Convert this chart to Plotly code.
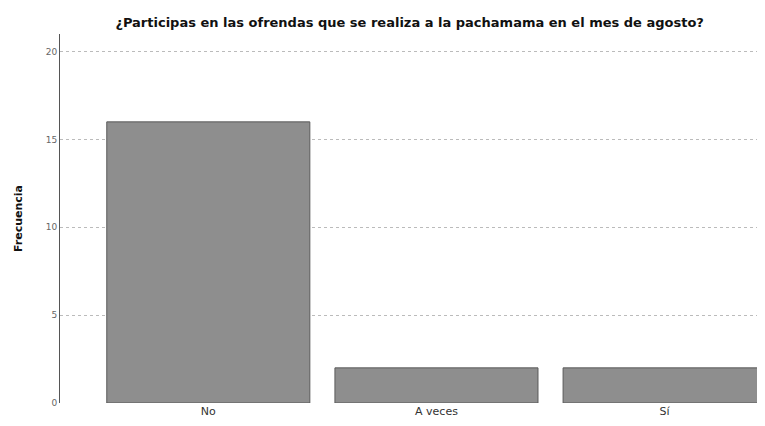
import plotly.graph_objects as go

categorias = ["No", "A veces", "Sí"]
frecuencia = [16, 2, 2]
ticks_y = [0, 5, 10, 15, 20]

fig = go.Figure()
fig.add_trace(
    go.Bar(
        x=categorias,
        y=frecuencia,
        marker=dict(color="#8e8e8e", line=dict(color="#5a5a5a", width=1)),
        showlegend=False,
    )
)

# the page body adds an 8px offset, margins are set with that in mind
fig.update_layout(
    width=765,
    height=426,
    paper_bgcolor="white",
    plot_bgcolor="white",
    font=dict(family="DejaVu Sans, Verdana, sans-serif", size=11, color="#222"),
    title=dict(
        text="<b>¿Participas en las ofrendas que se realiza a la pachamama en el mes de agosto?</b>",
        x=0.525,
        xanchor="center",
        y=0.967,
        yanchor="middle",
        font=dict(size=13, color="#111"),
    ),
    margin=dict(l=52, r=8, t=26, b=31),
    bargap=0.11,
    xaxis=dict(
        range=[-0.65, 2.44],
        showline=False,
        showgrid=False,
        ticks="",
        tickfont=dict(size=11, color="#333"),
    ),
    yaxis=dict(
        title=dict(text="<b>Frecuencia</b>", font=dict(size=11, color="#111"), standoff=20),
        automargin=False,
        range=[0, 21],
        tickvals=ticks_y,
        showline=True,
        linecolor="#555",
        linewidth=1,
        showgrid=True,
        gridcolor="#bbbbbb",
        griddash="dot",
        gridwidth=1,
        zeroline=False,
        ticks="",
        tickfont=dict(size=9, color="#666"),
    ),
)

fig.write_html("out.html")
